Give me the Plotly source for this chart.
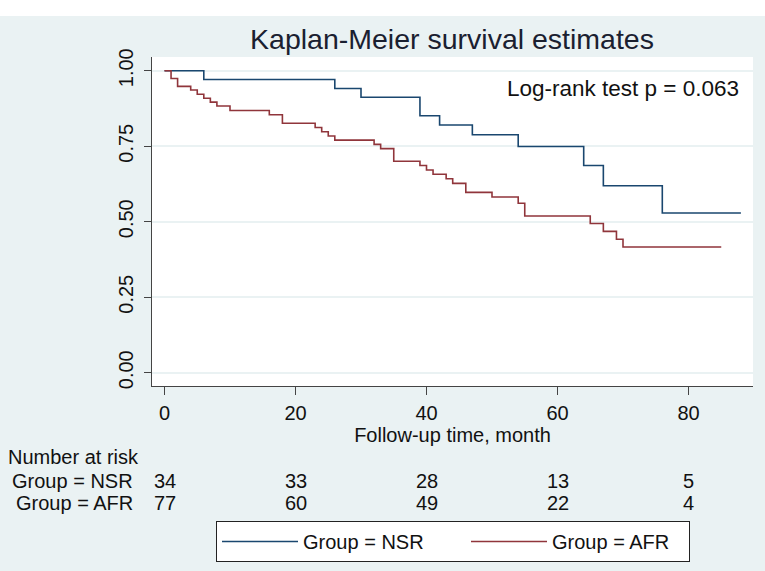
import plotly.graph_objects as go

# ---- data ----
nsr_time = [0, 6, 26, 30, 39, 42, 47, 54, 64, 67, 76, 88]
nsr_surv = [1.0, 0.971, 0.941, 0.912, 0.851, 0.820, 0.788, 0.749, 0.686, 0.619, 0.529, 0.529]

afr_time = [0, 1, 2, 4, 5, 6, 7, 8, 10, 16, 18, 23, 24, 25, 26, 32, 33, 35, 39, 40, 41,
            43, 44, 46, 50, 54, 55, 65, 67, 69, 70, 85]
afr_surv = [1.0, 0.974, 0.948, 0.936, 0.922, 0.909, 0.896, 0.883, 0.868, 0.854, 0.826,
            0.812, 0.798, 0.784, 0.770, 0.756, 0.742, 0.700, 0.686, 0.671, 0.657,
            0.642, 0.627, 0.597, 0.582, 0.561, 0.519, 0.494, 0.468, 0.442, 0.416, 0.416]

risk_times = [0, 20, 40, 60, 80]
risk_nsr = [34, 33, 28, 13, 5]
risk_afr = [77, 60, 49, 22, 4]

x_ticks = [0, 20, 40, 60, 80]
y_ticks = [0, 0.25, 0.5, 0.75, 1.0]

BLUE = "#1A476F"
RED = "#90353B"
BG = "#EAF2F3"
FONT = "Liberation Sans, Arial, sans-serif"
TXT = "#111111"
FS = 20

# ---- geometry (pixels) ----
W, H = 765, 571
L, R, T, B = 152, 753, 57, 386
pw, ph = R - L, B - T


def px_x(p):
    return (p - L) / pw


def px_y(p):
    return (B - p) / ph


fig = go.Figure()
fig.add_trace(go.Scatter(x=nsr_time, y=nsr_surv, mode="lines", line_shape="hv",
                         line=dict(color=BLUE, width=1.6), name="Group = NSR",
                         legendwidth=158))
fig.add_trace(go.Scatter(x=afr_time, y=afr_surv, mode="lines", line_shape="hv",
                         line=dict(color=RED, width=1.6), name="Group = AFR",
                         legendwidth=132))

annotations = [
    dict(text="Log-rank test p = 0.063", xref="paper", yref="paper",
         x=px_x(741), y=px_y(88), xanchor="right", yanchor="middle",
         showarrow=False, font=dict(size=22.5, color=TXT, family=FONT)),
    dict(text="Number at risk", xref="paper", yref="paper",
         x=px_x(6), y=px_y(457), xanchor="left", yanchor="middle",
         showarrow=False, font=dict(size=FS, color=TXT, family=FONT)),
    dict(text="Group = NSR", xref="paper", yref="paper",
         x=px_x(135), y=px_y(481), xanchor="right", yanchor="middle",
         showarrow=False, font=dict(size=FS, color=TXT, family=FONT)),
    dict(text="Group = AFR", xref="paper", yref="paper",
         x=px_x(135), y=px_y(503), xanchor="right", yanchor="middle",
         showarrow=False, font=dict(size=FS, color=TXT, family=FONT)),
]
for t, n1, n2 in zip(risk_times, risk_nsr, risk_afr):
    annotations.append(dict(text=str(n1), xref="x", yref="paper", x=t, y=px_y(481),
                            xanchor="center", yanchor="middle", showarrow=False,
                            font=dict(size=FS, color=TXT, family=FONT)))
    annotations.append(dict(text=str(n2), xref="x", yref="paper", x=t, y=px_y(503),
                            xanchor="center", yanchor="middle", showarrow=False,
                            font=dict(size=FS, color=TXT, family=FONT)))

shapes = [
    # white strip along the top edge of the image
    dict(type="rect", xref="paper", yref="paper", x0=px_x(0), x1=px_x(W),
         y0=px_y(16), y1=px_y(0), fillcolor="white", line=dict(width=0), layer="below"),
]

fig.update_layout(
    width=W, height=H,
    margin=dict(l=L, r=W - R, t=T, b=H - B, autoexpand=False),
    paper_bgcolor=BG, plot_bgcolor="white",
    font=dict(family=FONT, color=TXT, size=FS),
    title=dict(text="Kaplan-Meier survival estimates", x=px_x(452), xref="paper",
               xanchor="center", y=1 - 39 / H, yanchor="middle",
               font=dict(size=28.5, color="#1a2030", family=FONT)),
    xaxis=dict(range=[(L - 164.5) / 6.55, (R - 164.5) / 6.55], tickvals=x_ticks,
               showgrid=False, zeroline=False, showline=True, linecolor="#444",
               linewidth=1.2, ticks="outside", ticklen=8, tickcolor="#444",
               tickfont=dict(size=FS), ticklabelstandoff=1,
               title=dict(text="Follow-up time, month", font=dict(size=FS), standoff=0)),
    yaxis=dict(range=[-(B - 372.7) / 302, 1 + (70.7 - T) / 302], tickvals=y_ticks,
               tickformat=".2f", tickangle=-90, showgrid=True, gridcolor=BG,
               gridwidth=1.5, zeroline=False, showline=True, linecolor="#444",
               linewidth=1.2, ticks="outside", ticklen=7, tickcolor="#444",
               tickfont=dict(size=FS), ticklabelstandoff=3),
    showlegend=True,
    legend=dict(orientation="h", x=px_x(216), y=px_y(521), xanchor="left", yanchor="top",
                xref="paper", yref="paper", bgcolor="white", bordercolor="#222",
                borderwidth=1, itemwidth=76, font=dict(size=FS),
                entrywidthmode="pixels"),
    annotations=annotations,
    shapes=shapes,
)

fig.write_html("out.html")
